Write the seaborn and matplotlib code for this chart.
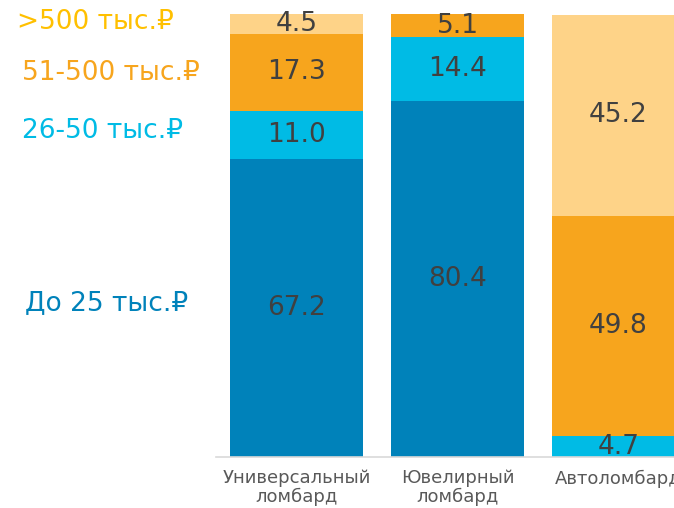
import numpy as np, pandas as pd
import matplotlib as mpl, matplotlib.pyplot as plt
import seaborn as sns

sns.set_style("white")
plt.rcParams["font.family"] = ["DejaVu Sans"]

# данные (доли, %)
cats = ["Универсальный\nломбард", "Ювелирный\nломбард", "Автоломбард"]
groups = ["До 25 тыс.₽", "26-50 тыс.₽", "51-500 тыс.₽", ">500 тыс.₽"]
upto25 = [67.2, 80.4, 0.0]
s26_50 = [11.0, 14.4, 4.7]
s51_500 = [17.3, 5.1, 49.8]
over500 = [4.5, 0.0, 45.2]

COL = ["#0082BA", "#00BBE5", "#F7A51D", "#FED388"]
LBL = ["#0082BA", "#00BBE5", "#F7A51D", "#FFC000"]

vals = np.array([upto25, s26_50, s51_500, over500])
cum = vals.cumsum(axis=0)

fig = plt.figure(figsize=(6.74, 5.08), dpi=100)
ax = fig.add_axes([0.3205, 0.1004, 0.7166, 0.8720])

# stacked via overlapping cumulative bars (top layer first)
for i in range(3, -1, -1):
    d = pd.DataFrame({"cat": cats, "v": cum[i]})
    sns.barplot(data=d, x="cat", y="v", color=COL[i], width=0.83, saturation=1,
                linewidth=0, ax=ax)

for j in range(len(cats)):
    for i in range(4):
        if vals[i, j] <= 0:
            continue
        yc = cum[i, j] - vals[i, j] / 2
        ax.text(j, yc, f"{vals[i, j]:.1f}", ha="center", va="center",
                fontsize=19, color="#404040")

ax.set_xlim(-0.5, 2.5); ax.set_ylim(0, 100)
ax.set_xlabel(None); ax.set_ylabel(None); ax.set_yticks([])
for s in ["top", "right", "left"]:
    ax.spines[s].set_visible(False)
ax.spines["bottom"].set_color("#D9D9D9"); ax.spines["bottom"].set_linewidth(1.2)
ax.tick_params(axis="x", which="major", length=0, pad=9, labelsize=13, labelcolor="#595959")
for t in ax.get_xticklabels():
    t.set_linespacing(1.05)
ax.set_xticks([-0.5, 0.5, 1.5, 2.5], minor=True)
ax.tick_params(axis="x", which="minor", length=5, width=1.2, color="#D9D9D9", direction="out")

# подписи групп слева
pos = [(17, 22), (22, 73), (22, 131), (25, 303)]
for i, (px, py) in zip([3, 2, 1, 0], pos):
    fig.text(px / 674, 1 - py / 508, groups[i], color=LBL[i], fontsize=19,
             ha="left", va="center")

fig.savefig("out.png", dpi=100)
